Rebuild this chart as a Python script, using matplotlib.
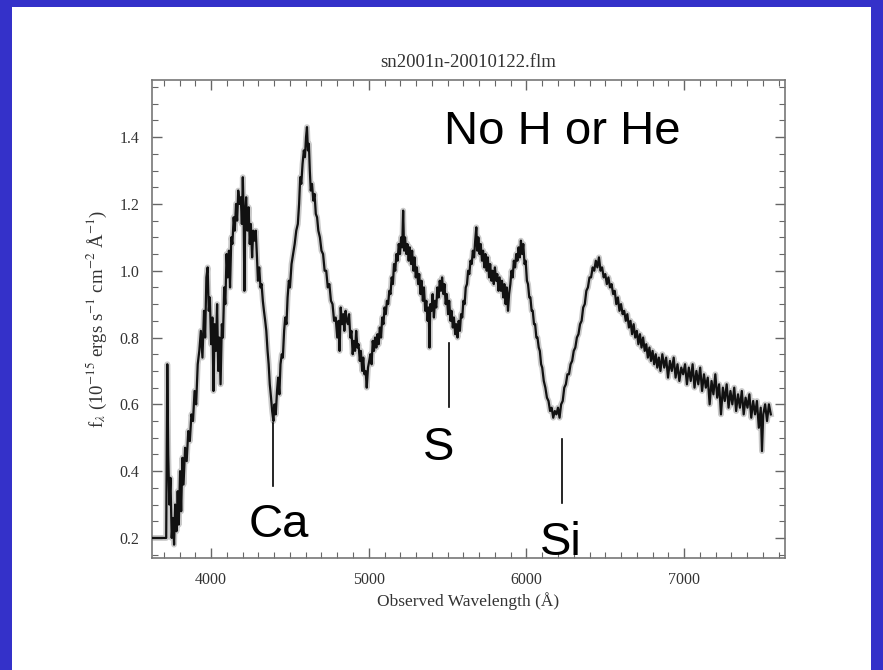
import numpy as np
import matplotlib
matplotlib.use("Agg")
import matplotlib.pyplot as plt
from matplotlib.ticker import MultipleLocator

plt.rcParams['font.family'] = ['Liberation Serif', 'DejaVu Serif']
plt.rcParams['mathtext.fontset'] = 'stix'

# spectrum, in pieces (wavelength in A, flux in 1e-15 cgs)
wave_a = [3632, 3715, 3722, 3728, 3735, 3742, 3750, 3758, 3765, 3772, 3780, 3788, 3795, 3803,
          3810, 3818, 3825, 3835, 3845, 3855, 3865, 3875, 3885, 3895, 3905, 3915, 3925, 3935,
          3945, 3955, 3962, 3970, 3978, 3985, 3992, 4000]
flux_a = [0.20, 0.20, 0.72, 0.45, 0.30, 0.38, 0.20, 0.26, 0.18, 0.30, 0.22, 0.34, 0.24, 0.40,
          0.28, 0.44, 0.36, 0.47, 0.43, 0.52, 0.49, 0.57, 0.55, 0.64, 0.60, 0.72, 0.76, 0.82,
          0.74, 0.88, 0.80, 0.98, 1.01, 0.88, 0.92, 0.78]

wave_b = [4008, 4015, 4022, 4030, 4038, 4045, 4052, 4060, 4068, 4075, 4083, 4090, 4098, 4105,
          4113, 4120, 4128, 4135, 4143, 4150, 4158, 4165, 4172, 4180, 4188, 4195, 4201, 4206,
          4211, 4216, 4222, 4230, 4238, 4245, 4252, 4260, 4267, 4275, 4283, 4290, 4297, 4305,
          4313, 4320, 4328, 4335, 4343, 4350, 4358, 4365, 4372, 4380, 4387, 4395, 4402, 4410,
          4418, 4425, 4433]
flux_b = [0.86, 0.64, 0.84, 0.76, 0.90, 0.70, 0.80, 0.66, 0.84, 0.80, 0.95, 0.90, 1.05, 0.98,
          1.06, 0.95, 1.10, 1.08, 1.16, 1.12, 1.20, 1.15, 1.24, 1.20, 1.22, 1.14, 1.28, 1.18,
          0.94, 1.16, 1.22, 1.12, 1.19, 1.08, 1.14, 1.04, 1.12, 1.09, 1.12, 1.05, 0.97, 1.01,
          0.95, 0.96, 0.91, 0.88, 0.85, 0.82, 0.76, 0.72, 0.66, 0.62, 0.58, 0.55, 0.60, 0.57,
          0.64, 0.68, 0.63]

wave_c = [4440, 4448, 4455, 4463, 4470, 4478, 4485, 4493, 4500, 4510, 4520, 4530, 4540, 4550,
          4558, 4565, 4572, 4580, 4588, 4595, 4602, 4608, 4614, 4620, 4626, 4632, 4640, 4648,
          4656, 4664, 4672, 4680, 4690, 4700, 4710, 4720, 4730, 4740, 4750, 4760, 4770, 4780,
          4790, 4800, 4808, 4815, 4822, 4830, 4838, 4845, 4853, 4860, 4868, 4875, 4883, 4890,
          4898, 4905, 4913, 4920, 4928, 4935, 4943, 4950, 4958, 4965, 4972, 4980, 4987, 4995]
flux_c = [0.72, 0.75, 0.74, 0.82, 0.86, 0.84, 0.92, 0.97, 0.95, 1.02, 1.05, 1.08, 1.12, 1.14,
          1.20, 1.28, 1.26, 1.32, 1.36, 1.34, 1.40, 1.43, 1.36, 1.38, 1.30, 1.24, 1.26, 1.21,
          1.23, 1.17, 1.16, 1.12, 1.10, 1.06, 1.05, 1.00, 1.00, 0.95, 0.96, 0.91, 0.90, 0.85,
          0.86, 0.80, 0.85, 0.76, 0.89, 0.84, 0.87, 0.82, 0.88, 0.85, 0.84, 0.87, 0.80, 0.82,
          0.75, 0.79, 0.76, 0.82, 0.77, 0.78, 0.73, 0.76, 0.70, 0.74, 0.69, 0.70, 0.65, 0.71]

wave_d = [5003, 5010, 5018, 5025, 5033, 5040, 5048, 5055, 5063, 5070, 5078, 5085, 5093, 5100,
          5108, 5115, 5123, 5130, 5138, 5145, 5153, 5160, 5168, 5175, 5183, 5190, 5198, 5205,
          5212, 5218, 5224, 5230, 5238, 5245, 5253, 5260, 5268, 5275, 5283, 5290, 5298, 5305,
          5313, 5320, 5328, 5335, 5343, 5350, 5358, 5365, 5373, 5380, 5385, 5390, 5398, 5405,
          5413, 5420, 5428, 5435, 5443, 5450, 5458, 5465, 5473, 5480, 5488, 5495, 5503, 5510,
          5518, 5525, 5533, 5540, 5548, 5555, 5563]
flux_d = [0.73, 0.75, 0.72, 0.79, 0.76, 0.80, 0.77, 0.81, 0.78, 0.83, 0.80, 0.86, 0.84, 0.89,
          0.87, 0.91, 0.90, 0.94, 0.93, 0.98, 0.96, 1.02, 1.00, 1.05, 1.03, 1.08, 1.05, 1.10,
          1.07, 1.18, 1.06, 1.10, 1.05, 1.08, 1.03, 1.07, 1.02, 1.06, 1.00, 1.04, 0.98, 1.01,
          0.96, 0.99, 0.93, 0.97, 0.91, 0.95, 0.88, 0.91, 0.85, 0.89, 0.77, 0.90, 0.88, 0.93,
          0.86, 0.91, 0.89, 0.95, 0.92, 0.97, 0.94, 0.98, 0.93, 0.96, 0.90, 0.93, 0.87, 0.91,
          0.85, 0.88, 0.83, 0.86, 0.81, 0.84, 0.80]

wave_e = [5570, 5578, 5585, 5593, 5600, 5608, 5615, 5623, 5630, 5638, 5645, 5653, 5660, 5668,
          5675, 5682, 5688, 5695, 5703, 5710, 5718, 5725, 5733, 5740, 5748, 5755, 5763, 5770,
          5778, 5785, 5793, 5800, 5808, 5815, 5823, 5830, 5838, 5845, 5853, 5860, 5868, 5875,
          5883, 5890, 5898, 5905, 5913, 5920, 5928, 5935, 5943, 5950, 5958, 5965, 5973, 5980,
          5988, 5995, 6003, 6010, 6018, 6025, 6033, 6040, 6048, 6055, 6063, 6070, 6078, 6085,
          6093]
flux_e = [0.85, 0.82, 0.87, 0.86, 0.91, 0.90, 0.95, 0.96, 1.00, 0.99, 1.03, 1.02, 1.06, 1.04,
          1.09, 1.13, 1.06, 1.10, 1.05, 1.08, 1.03, 1.06, 1.01, 1.05, 1.00, 1.04, 0.98, 1.02,
          0.97, 1.00, 0.96, 1.01, 0.97, 0.99, 0.94, 0.98, 0.94, 0.97, 0.92, 0.96, 0.90, 0.95,
          0.88, 0.93, 0.96, 1.00, 0.98, 1.03, 1.01, 1.05, 1.03, 1.07, 1.04, 1.09, 1.05, 1.08,
          1.02, 1.03, 0.97, 0.96, 0.92, 0.92, 0.88, 0.88, 0.84, 0.84, 0.80, 0.80, 0.77, 0.76,
          0.72]

wave_f = [6100, 6110, 6120, 6130, 6140, 6150, 6160, 6170, 6180, 6190, 6200, 6210, 6220, 6230,
          6240, 6250, 6260, 6270, 6280, 6290, 6300, 6310, 6320, 6330, 6340, 6350, 6360, 6370,
          6380, 6390, 6400, 6410, 6420, 6430, 6440, 6450, 6460, 6470, 6480, 6490, 6500, 6510,
          6520, 6530, 6540, 6550, 6560, 6570, 6580, 6590, 6600, 6610, 6620, 6630, 6640, 6650,
          6660, 6670, 6680, 6690, 6700, 6710, 6720, 6730, 6740, 6750, 6760, 6770, 6780, 6790,
          6800, 6810, 6820, 6830, 6840]
flux_f = [0.71, 0.67, 0.65, 0.62, 0.61, 0.58, 0.59, 0.56, 0.58, 0.57, 0.59, 0.56, 0.60, 0.61,
          0.65, 0.66, 0.69, 0.69, 0.72, 0.73, 0.76, 0.77, 0.80, 0.81, 0.84, 0.85, 0.89, 0.90,
          0.94, 0.95, 0.98, 0.98, 1.01, 1.00, 1.03, 1.01, 1.04, 1.00, 1.01, 0.98, 0.99, 0.96,
          0.98, 0.95, 0.96, 0.93, 0.94, 0.90, 0.92, 0.88, 0.90, 0.87, 0.88, 0.85, 0.87, 0.83,
          0.85, 0.81, 0.84, 0.80, 0.82, 0.78, 0.81, 0.77, 0.80, 0.76, 0.78, 0.74, 0.77, 0.73,
          0.76, 0.72, 0.75, 0.71, 0.74]

wave_g = [6850, 6862, 6874, 6886, 6898, 6910, 6922, 6934, 6946, 6958, 6970, 6982, 6994, 7006,
          7018, 7030, 7042, 7054, 7066, 7078, 7090, 7102, 7114, 7126, 7138, 7150, 7162, 7174,
          7186, 7198, 7210, 7222, 7234, 7246, 7258, 7270, 7282, 7294, 7306, 7318, 7330, 7342,
          7354, 7366, 7378, 7390, 7402, 7414, 7426, 7438, 7450, 7462, 7474, 7486, 7494, 7502,
          7514, 7526, 7538, 7550]
flux_g = [0.70, 0.75, 0.71, 0.74, 0.68, 0.73, 0.70, 0.74, 0.68, 0.72, 0.67, 0.71, 0.69, 0.72,
          0.66, 0.71, 0.67, 0.72, 0.65, 0.70, 0.66, 0.71, 0.64, 0.69, 0.65, 0.68, 0.60, 0.67,
          0.63, 0.69, 0.62, 0.66, 0.57, 0.65, 0.61, 0.66, 0.59, 0.64, 0.60, 0.65, 0.58, 0.63,
          0.59, 0.64, 0.57, 0.62, 0.59, 0.63, 0.56, 0.61, 0.57, 0.61, 0.53, 0.59, 0.46, 0.57,
          0.60, 0.55, 0.60, 0.57]

wave = np.array(wave_a + wave_b + wave_c + wave_d + wave_e + wave_f + wave_g)
flux = np.array(flux_a + flux_b + flux_c + flux_d + flux_e + flux_f + flux_g)

# line identifications: label, x of marker, marker y range, label position
ids = ["Ca", "S", "Si"]
id_wave = [4392, 5511, 6228]
id_ylo = [0.356, 0.593, 0.305]
id_yhi = [0.545, 0.785, 0.497]
id_text_x = [4430, 5440, 6215]
id_text_y = [0.240, 0.470, 0.185]

W, H = 883, 670
fig = plt.figure(figsize=(W / 100, H / 100), dpi=100)
fig.patch.set_facecolor('#3431c9')
# white slide panel
fig.add_artist(plt.Rectangle((12 / W, 0), (W - 24) / W, (H - 7) / H,
                             transform=fig.transFigure, facecolor='white',
                             edgecolor='none', zorder=0))

ax = fig.add_axes([152 / W, (H - 558) / H, 633 / W, 478 / H])
ax.plot(wave, flux, color='#8a8a8a', lw=4.2, alpha=0.45, zorder=2)
ax.plot(wave, flux, color='#111111', lw=1.6, zorder=3)

ax.set_xlim(3625, 7640)
ax.set_ylim(0.14, 1.571)
ax.xaxis.set_major_locator(MultipleLocator(1000))
ax.xaxis.set_minor_locator(MultipleLocator(100))
ax.yaxis.set_major_locator(MultipleLocator(0.2))
ax.yaxis.set_minor_locator(MultipleLocator(0.05))
ax.yaxis.set_major_formatter(plt.FuncFormatter(lambda v, p: f"{v:.1f}"))
ax.tick_params(which='both', direction='in', top=True, right=True, color='#666666',
               labelsize=11.5, labelcolor='#333333')
ax.tick_params(axis='x', which='major', pad=10)
ax.tick_params(axis='y', which='major', pad=9)
ax.tick_params(which='major', length=7, width=1)
ax.tick_params(which='minor', length=4, width=0.8)
for s in ax.spines.values():
    s.set_color('#777777')
    s.set_linewidth(1.2)

ax.set_title("sn2001n-20010122.flm", fontsize=13.5, color='#333333', pad=9)
ax.set_xlabel("Observed Wavelength (Å)", fontsize=12.5, color='#333333', labelpad=3)
ax.set_ylabel(r"f$_\lambda$ (10$^{-15}$ ergs s$^{-1}$ cm$^{-2}$ Å$^{-1}$)", fontsize=13.5,
              color='#333333', labelpad=8)

sans = ['Liberation Sans', 'DejaVu Sans']
ax.text(6224, 1.415, "No H or He", family=sans, fontsize=34, ha='center', va='center')
for lab, xw, lo, hi, tx, ty in zip(ids, id_wave, id_ylo, id_yhi, id_text_x, id_text_y):
    ax.plot([xw, xw], [lo, hi], color='black', lw=1.2, zorder=4)
    ax.text(tx, ty, lab, family=sans, fontsize=34, ha='center', va='center', zorder=5)

fig.savefig("out.png", dpi=100, facecolor=fig.get_facecolor())
